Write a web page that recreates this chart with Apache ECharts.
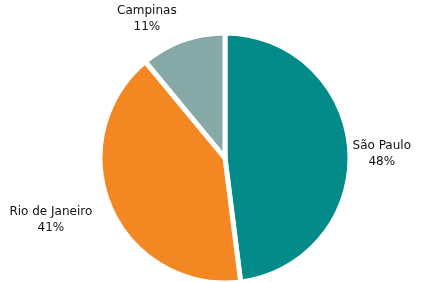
<!DOCTYPE html>
<html>
<head>
<meta charset="utf-8">
<script src="https://cdn.jsdelivr.net/npm/echarts@6/dist/echarts.min.js"></script>
<style>
  html, body { margin: 0; padding: 0; background: #fff; }
  #chart { width: 421px; height: 282px; }
</style>
</head>
<body>
<div id="chart"></div>
<script>
const cities = ['São Paulo', 'Rio de Janeiro', 'Campinas'];
const shares = [48, 41, 11];
const colors = ['#038b8a', '#f38823', '#86a9a8'];
// per-slice label line lengths (line itself hidden)
const lineLen1 = [8, 31, 23];
const lineLen2 = [19, 26, 23];
const labelDy = [4, 0, 0];

const chart = echarts.init(document.getElementById('chart'));
chart.setOption({
  animation: false,
  series: [{
    type: 'pie',
    center: [225, 158],
    radius: 125,
    startAngle: 90,
    clockwise: true,
    avoidLabelOverlap: false,
    itemStyle: { borderColor: '#fff', borderWidth: 5 },
    label: {
      show: true,
      position: 'outside',
      formatter: '{b}\n{d}%',
      fontFamily: 'DejaVu Sans',
      fontSize: 12,
      lineHeight: 16,
      color: '#111'
    },
    labelLayout: (p) => ({ align: 'center', verticalAlign: 'middle', dy: labelDy[p.dataIndex] }),
    data: cities.map((c, i) => ({
      name: c,
      value: shares[i],
      itemStyle: { color: colors[i] },
      labelLine: { show: false, length: lineLen1[i], length2: lineLen2[i] }
    }))
  }]
});
</script>
</body>
</html>
